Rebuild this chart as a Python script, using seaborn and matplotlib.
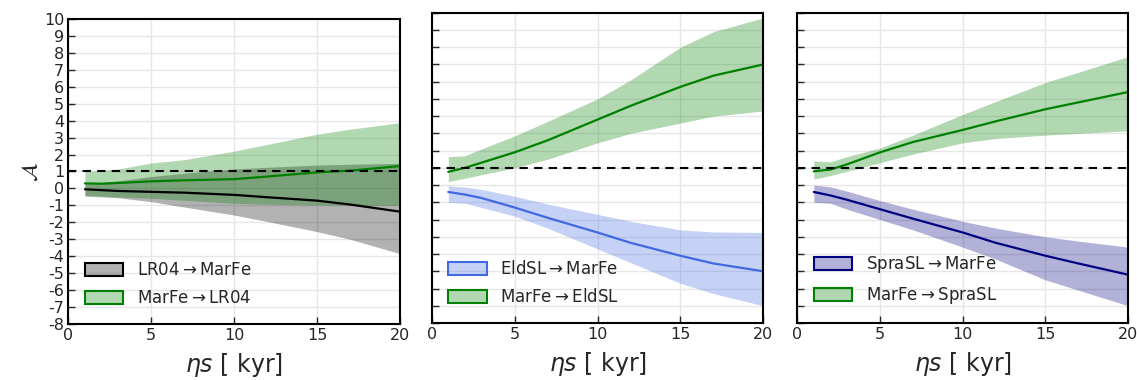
import numpy as np
import matplotlib
matplotlib.use("Agg")
import matplotlib.pyplot as plt
from matplotlib.patches import Patch
import seaborn as sns

sns.set_style("white")
plt.rcParams['font.family'] = ['DejaVu Sans']
plt.rcParams['axes.unicode_minus'] = False
plt.rcParams['mathtext.fontset'] = 'dejavusans'

# shared x grid (eta*s in kyr)
xs = [1, 2, 3, 5, 7, 10, 12, 15, 17, 20]

# panel 1: LR04 <-> MarFe
lr04_mean = [-0.05, -0.1, -0.15, -0.2, -0.25, -0.38, -0.52, -0.72, -0.95, -1.37]
lr04_hi = [0.3, 0.35, 0.45, 0.7, 0.9, 1.15, 1.25, 1.38, 1.43, 1.48]
lr04_lo = [-0.45, -0.5, -0.55, -0.78, -1.1, -1.57, -1.95, -2.55, -3.0, -3.85]
mf_lr04_mean = [0.3, 0.28, 0.32, 0.42, 0.48, 0.55, 0.7, 0.95, 1.05, 1.32]
mf_lr04_hi = [1.0, 1.05, 1.15, 1.5, 1.7, 2.2, 2.6, 3.2, 3.5, 3.88]
mf_lr04_lo = [-0.42, -0.45, -0.5, -0.58, -0.7, -0.88, -0.93, -0.98, -1.0, -1.0]

# panel 2: EldSL <-> MarFe
eld_mean = [-0.4, -0.55, -0.75, -1.3, -1.9, -2.75, -3.35, -4.1, -4.55, -5.0]
eld_hi = [-0.05, -0.12, -0.25, -0.65, -1.1, -1.7, -2.1, -2.6, -2.72, -2.75]
eld_lo = [-1.0, -1.05, -1.3, -1.8, -2.5, -3.7, -4.5, -5.7, -6.3, -7.0]
mf_eld_mean = [0.77, 1.0, 1.3, 1.9, 2.6, 3.8, 4.6, 5.7, 6.35, 7.0]
mf_eld_hi = [1.65, 1.7, 2.1, 2.85, 3.7, 5.0, 6.1, 8.0, 8.9, 9.7]
mf_eld_lo = [0.2, 0.4, 0.6, 1.0, 1.5, 2.45, 3.0, 3.6, 4.0, 4.3]

# panel 3: SpraSL <-> MarFe
spra_mean = [-0.4, -0.6, -0.85, -1.4, -1.95, -2.75, -3.35, -4.1, -4.55, -5.2]
spra_hi = [0.0, -0.1, -0.35, -0.9, -1.4, -2.1, -2.5, -3.0, -3.25, -3.6]
spra_lo = [-1.0, -1.05, -1.4, -2.0, -2.6, -3.6, -4.3, -5.5, -6.1, -7.0]
mf_spra_mean = [0.8, 0.9, 1.2, 1.9, 2.5, 3.2, 3.7, 4.4, 4.8, 5.4]
mf_spra_hi = [1.4, 1.35, 1.65, 2.15, 2.9, 4.1, 4.85, 5.95, 6.55, 7.45]
mf_spra_lo = [0.35, 0.55, 0.8, 1.3, 1.8, 2.45, 2.7, 2.9, 3.0, 3.15]

panels = [
    ([("LR04$\\rightarrow$MarFe", "black", lr04_mean, lr04_hi, lr04_lo),
      ("MarFe$\\rightarrow$LR04", "green", mf_lr04_mean, mf_lr04_hi, mf_lr04_lo)],
     [0.0601, 0.1474, 0.2917, 0.8026]),
    ([("EldSL$\\rightarrow$MarFe", "royalblue", eld_mean, eld_hi, eld_lo),
      ("MarFe$\\rightarrow$EldSL", "green", mf_eld_mean, mf_eld_hi, mf_eld_lo)],
     [0.3797, 0.1500, 0.2917, 0.8166]),
    ([("SpraSL$\\rightarrow$MarFe", "navy", spra_mean, spra_hi, spra_lo),
      ("MarFe$\\rightarrow$SpraSL", "green", mf_spra_mean, mf_spra_hi, mf_spra_lo)],
     [0.7012, 0.1500, 0.2911, 0.8166]),
]

fig = plt.figure(figsize=(11.37, 3.8), dpi=100)

for i, (series, pos) in enumerate(panels):
    ax = fig.add_axes(pos)
    handles = []
    for label, col, mean, hi, lo in series:
        ax.fill_between(xs, lo, hi, color=col, alpha=0.3, linewidth=0)
        sns.lineplot(x=xs, y=mean, ax=ax, color=col, linewidth=1.6)
        handles.append(Patch(facecolor=matplotlib.colors.to_rgba(col, 0.3),
                             edgecolor=col, linewidth=1.5, label=label))
    ax.axhline(1, color='black', linestyle='--', linewidth=1.5, dashes=(4, 3))
    ax.set_xlim(0, 20)
    ax.set_ylim(-8, 10)
    ax.set_xticks([0, 5, 10, 15, 20])
    ax.set_yticks(range(-8, 11))
    ax.grid(True, color='#e6e6e6', linewidth=1)
    for sp in ax.spines.values():
        sp.set_color('black')
        sp.set_linewidth(1.5)
    ax.tick_params(direction='in', length=5, width=1, labelsize=11.5,
                   left=True, bottom=True, right=False, top=False, pad=3)
    if i > 0:
        ax.tick_params(labelleft=False)
    else:
        ax.set_ylabel(r"$\mathcal{A}$", fontsize=16, labelpad=2)
    ax.set_xlabel(r"$\eta s$ [ kyr]", fontsize=17, labelpad=6)
    ax.legend(handles=handles, loc='lower left', frameon=False, fontsize=12,
              handlelength=2.3, handleheight=0.75, handletextpad=0.8,
              labelspacing=0.6, borderaxespad=0.6)

fig.savefig("out.png", dpi=100)
